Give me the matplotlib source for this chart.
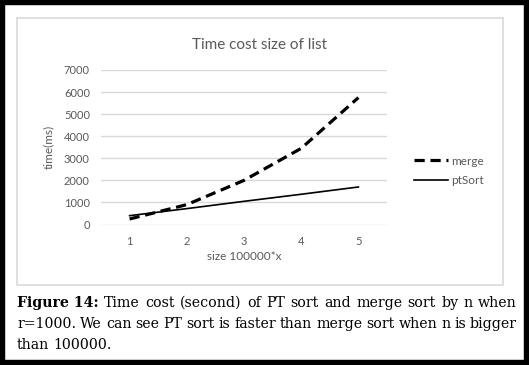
import matplotlib
matplotlib.use("Agg")
import matplotlib.pyplot as plt
from matplotlib.patches import Rectangle

# data
sizes = [1, 2, 3, 4, 5]
merge_ms = [250, 900, 2000, 3450, 5750]
ptsort_ms = [400, 720, 1050, 1370, 1700]
y_ticks = [0, 1000, 2000, 3000, 4000, 5000, 6000, 7000]

title = "Time cost size of list"
caption_lines = [
    ["Time", "cost", "(second)", "of", "PT", "sort", "and", "merge", "sort", "by", "n", "when"],
    ["r=1000.", "We", "can", "see", "PT", "sort", "is", "faster", "than", "merge", "sort", "when", "n", "is", "bigger"],
    ["than", "100000."],
]

W, H = 529, 365
grey = "#595959"
grid = "#d9d9d9"
sans = ["Lato", "DejaVu Sans"]
serif = ["DejaVu Serif"]

fig = plt.figure(figsize=(W / 100, H / 100), dpi=100)
fig.patch.set_facecolor("white")

def px(x, y):
    return x / W, 1 - y / H

# outer black frame
fig.patches.append(Rectangle((0, 0), 1, 1, transform=fig.transFigure,
                             fill=False, edgecolor="black", linewidth=7.5))
# chart box
x0, y0 = px(17, 285)
x1, y1 = px(503, 18)
fig.patches.append(Rectangle((x0, y0), x1 - x0, y1 - y0, transform=fig.transFigure,
                             fill=False, edgecolor=grid, linewidth=1.2))

ax_l, ax_b = px(101, 224.5)
ax_r, ax_t = px(387, 70)
ax = fig.add_axes([ax_l, ax_b, ax_r - ax_l, ax_t - ax_b])

ax.plot(sizes, merge_ms, color="black", lw=2.3, dashes=(3.2, 1.8), label="merge")
ax.plot(sizes, ptsort_ms, color="black", lw=1.2, label="ptSort")

ax.set_xlim(0.5, 5.5)
ax.set_ylim(0, 7000)
ax.set_yticks(y_ticks)
ax.set_xticks(sizes)
ax.grid(axis="y", color=grid, lw=1)
ax.set_axisbelow(True)
for s in ax.spines.values():
    s.set_visible(False)
ax.tick_params(length=0, labelsize=8, labelcolor=grey, pad=8)
for lab in ax.get_xticklabels() + ax.get_yticklabels():
    lab.set_family(sans)
ax.set_xlabel("size 100000*x", fontsize=8.5, color=grey, family=sans, labelpad=3)
ax.set_ylabel("time(ms)", fontsize=8.5, color=grey, family=sans, labelpad=7)

fig.text(*px(260, 45), title, ha="center", va="center", fontsize=11,
         color=grey, family=sans)

leg = ax.legend(loc="center left", bbox_to_anchor=px(403, 171), bbox_transform=fig.transFigure,
                frameon=False, handlelength=2.9, handletextpad=0.25,
                labelspacing=0.75, prop={"family": sans, "size": 8.5})
for t in leg.get_texts():
    t.set_color(grey)

# caption, justified between 17 and 517 px
fig.canvas.draw()
renderer = fig.canvas.get_renderer()
left, right = 17, 517
line_y = [303, 324, 345]
fs = 10.2

def width_px(txt, weight="normal"):
    t = fig.text(0, 0, txt, fontsize=fs, family=serif, weight=weight)
    w = t.get_window_extent(renderer).width
    t.remove()
    return w

for i, words in enumerate(caption_lines):
    items = [(w, "normal") for w in words]
    if i == 0:
        items = [("Figure 14:", "bold")] + items
    widths = [width_px(w, wt) for w, wt in items]
    if i < len(caption_lines) - 1:
        gap = (right - left - sum(widths)) / (len(items) - 1)
    else:
        gap = width_px("a b") - width_px("ab")
    x = left
    for (w, wt), wd in zip(items, widths):
        fig.text(*px(x, line_y[i]), w, ha="left", va="center", fontsize=fs,
                 family=serif, weight=wt, color="black")
        x += wd + gap

fig.savefig("out.png", dpi=100)
